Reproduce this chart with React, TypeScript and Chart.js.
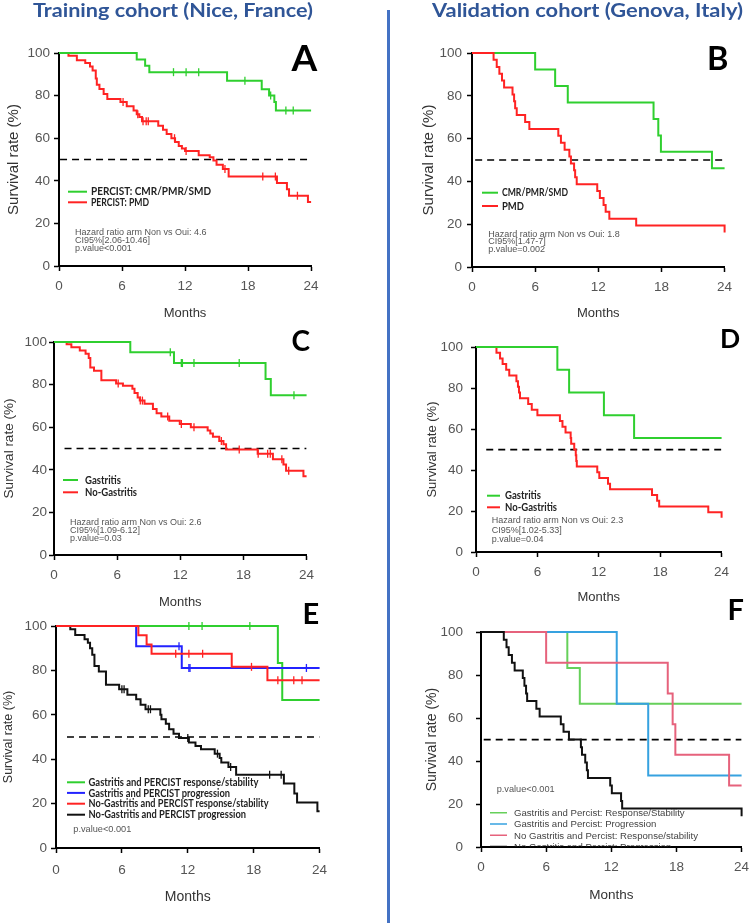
import React, { useEffect, useRef } from 'react';
import { Chart, registerables } from 'chart.js';
Chart.register(...registerables);

// ---------------- data ----------------
const FOLLOW_UP = 24;
const monthTicks = [0, 6, 12, 18, 24];
const survivalTicks = [0, 20, 40, 60, 80, 100];

// Panel A (training, PERCIST)
const aGreenTimes = [7.4, 8.2, 8.6, 16.0, 19.3, 20.0, 20.5, 20.65];
const aGreenSurv = [97, 94, 91, 87, 83, 80, 77, 73];
const aGreenCensor = [10.9, 12.1, 13.3, 17.7, 20.15, 21.6, 22.3];
const aRedTimes = [0.9, 1.7, 2.5, 2.95, 3.2, 3.5, 3.6, 3.85, 4.25, 4.6, 5.85, 6.45, 7.1, 7.4, 7.65, 7.9, 9.45, 9.9, 10.25, 10.7, 11.05, 11.4, 11.7, 12.0, 13.3, 14.35, 14.7, 15.0, 15.6, 16.15, 20.75, 21.7, 21.9, 23.7];
const aRedSurv = [98.7, 96.6, 95.3, 93.7, 91.8, 88, 85.1, 83.1, 80.7, 78.4, 77, 75, 73, 71.3, 69.9, 67.9, 65.8, 64, 62, 60, 58.2, 56.3, 55.2, 54, 52, 51, 49.5, 47.5, 45.5, 42, 39, 36, 33, 30];
const aRedCensor = [6.1, 7.5, 8.0, 8.3, 8.5, 11.0, 12.1, 15.8, 19.4, 20.6, 22.7];

// Panel B (validation, PERCIST)
const bGreenTimes = [6.0, 7.9, 9.1, 17.25, 17.7, 17.95, 22.8];
const bGreenSurv = [92.3, 84.6, 76.9, 69.2, 61.5, 53.8, 46.2];
const bRedTimes = [2.05, 2.35, 2.6, 2.85, 3.05, 3.85, 4.0, 4.1, 4.25, 5.05, 5.45, 8.2, 8.45, 8.8, 9.25, 9.4, 9.7, 9.8, 9.95, 11.9, 12.15, 12.5, 12.7, 13.05, 15.6, 24.0];
const bRedSurv = [96.8, 93.5, 90.3, 87.1, 83.9, 80.6, 77.4, 74.2, 71, 67.7, 64.5, 61.3, 58.1, 54.8, 51.6, 48.4, 45.2, 41.9, 38.7, 35.5, 32.3, 29, 25.8, 22.6, 19.4, 16.1];

// Panel C (training, gastritis)
const cGreenTimes = [7.25, 11.4, 20.1, 20.6];
const cGreenSurv = [95.2, 90.1, 82.6, 75];
const cGreenCensor = [11.05, 12.1, 12.2, 13.3, 17.6, 22.8];
const cRedTimes = [1.2, 1.65, 2.45, 3.0, 3.3, 3.45, 3.8, 4.5, 5.9, 6.55, 7.45, 7.65, 7.95, 8.15, 8.6, 9.4, 9.75, 10.2, 10.95, 11.95, 13.0, 14.6, 14.85, 15.1, 15.7, 16.1, 16.35, 19.35, 20.8, 21.8, 22.05, 23.7];
const cRedSurv = [99, 97.5, 96, 94.5, 92.5, 88, 86.5, 82, 80.5, 79.5, 78, 76, 74, 72.5, 71, 68.5, 66.5, 65, 63, 61.5, 60, 58.5, 57, 55.5, 53.5, 52, 49.5, 47.5, 45, 42.5, 39.5, 37];
const cRedCensor = [6.1, 8.2, 8.4, 10.8, 12.1, 13.3, 15.9, 17.6, 19.4, 20.3, 20.55, 21.65, 22.3];

// Panel D (validation, gastritis)
const dGreenTimes = [7.95, 9.1, 12.5, 15.45];
const dGreenSurv = [88.9, 77.8, 66.7, 55.6];
const dRedTimes = [2.0, 2.35, 2.6, 2.95, 3.25, 3.95, 4.1, 4.2, 4.3, 5.1, 5.45, 6.0, 8.2, 8.45, 8.75, 9.25, 9.3, 9.6, 9.75, 9.8, 9.85, 11.85, 12.05, 12.9, 13.1, 17.2, 17.7, 17.9, 22.7, 24.0];
const dRedSurv = [97.2, 94.4, 91.7, 88.9, 86.1, 83.3, 80.6, 77.8, 75, 72.2, 69.4, 66.7, 63.9, 61.1, 58.3, 55.6, 52.8, 50, 47.2, 44.4, 41.7, 38.9, 36.1, 33.3, 30.6, 27.8, 25, 22.2, 19.4, 16.7];

// Panel E (training, combined)
const eGreenTimes = [20.2, 20.6];
const eGreenSurv = [83.3, 66.7];
const eGreenCensor = [12.1, 13.3, 17.65];
const eBlueTimes = [7.3, 11.45];
const eBlueSurv = [90.9, 81.1];
const eBlueCensor = [11.2, 12.1, 12.2, 22.8];
const eRedTimes = [7.5, 8.25, 8.7, 16.0, 19.25];
const eRedSurv = [95.8, 91.7, 87.5, 81.6, 75.6];
const eRedCensor = [10.9, 12.1, 13.35, 17.8, 20.2, 21.65, 22.4];
const eBlackTimes = [1.3, 1.75, 2.6, 2.9, 3.1, 3.3, 3.5, 3.9, 4.55, 5.75, 6.5, 7.3, 7.7, 8.15, 9.5, 9.6, 10.0, 10.3, 10.7, 11.2, 12.1, 12.7, 13.2, 14.45, 14.9, 15.05, 15.7, 16.4, 20.75, 21.7, 21.95, 23.8];
const eBlackSurv = [98.5, 96, 94, 92.5, 90, 87, 82, 79.5, 73.5, 71.5, 69, 67, 64.5, 62.5, 60, 58, 56, 53.5, 51.5, 49.5, 47.5, 46, 44.5, 42.5, 40.5, 38.5, 36.5, 33, 29, 24.5, 20.5, 16.5];
const eBlackCensor = [6.0, 6.2, 8.4, 8.6, 12.0, 14.7, 15.9, 19.45, 20.5];

// Panel F (validation, combined)
const fGreenTimes = [7.95, 9.1];
const fGreenSurv = [83.3, 66.7];
const fBlueTimes = [12.5, 15.4];
const fBlueSurv = [66.7, 33.3];
const fPinkTimes = [6.0, 17.2, 17.65, 17.9, 22.85];
const fPinkSurv = [85.7, 71.4, 57.1, 42.9, 28.6];
const fBlackTimes = [2.1, 2.35, 2.55, 2.85, 3.1, 3.85, 4.0, 4.15, 4.25, 5.1, 5.4, 7.35, 7.6, 8.1, 9.2, 9.3, 9.6, 9.75, 9.85, 11.9, 12.05, 12.9, 13.0, 24.0];
const fBlackSurv = [96.4, 92.9, 89.3, 85.7, 82.1, 78.6, 75, 71.4, 67.9, 64.3, 60.7, 57.1, 53.6, 50, 46.4, 42.9, 39.3, 35.7, 32.1, 28.6, 25, 21.4, 17.9, 14.3];

// text content
const titleTraining = 'Training cohort (Nice, France)';
const titleValidation = 'Validation cohort (Genova, Italy)';
const legendA = ['PERCIST: CMR/PMR/SMD', 'PERCIST: PMD'];
const legendB = ['CMR/PMR/SMD', 'PMD'];
const legendC = ['Gastritis', 'No-Gastritis'];
const legendD = ['Gastritis', 'No-Gastritis'];
const legendE = ['Gastritis and PERCIST response/stability', 'Gastritis and PERCIST progression', 'No-Gastritis and PERCIST response/stability', 'No-Gastritis and PERCIST progression'];
const legendF = ['Gastritis and Percist: Response/Stability', 'Gastritis and Percist: Progression', 'No Gastritis and Percist: Response/stability', 'No Gastritis and Percist: Progression'];
const statsA = ['Hazard ratio arm Non vs Oui: 4.6', 'CI95%[2.06-10.46]', 'p.value<0.001'];
const statsB = ['Hazard ratio arm Non vs Oui: 1.8', 'CI95%[1.47-7]', 'p.value=0.002'];
const statsC = ['Hazard ratio arm Non vs Oui: 2.6', 'CI95%[1.09-6.12]', 'p.value=0.03'];
const statsD = ['Hazard ratio arm Non vs Oui: 2.3', 'CI95%[1.02-5.33]', 'p.value=0.04'];
const statsE = ['p.value<0.001'];
const statsF = ['p.value<0.001'];

// ---------------- styles ----------------
const GREEN = '#2fcf2f';
const RED = '#ff2323';
const BLUE = '#2323ff';
const BLACK = '#111111';
const F_GREEN = '#66d05a';
const F_BLUE = '#36a2e0';
const F_PINK = '#e6627c';
const SANS = "'Liberation Sans', Arial, sans-serif";
const HEAD = "Lato, 'Open Sans', sans-serif";

type Curve = { times: number[]; surv: number[]; censor?: number[]; color: string; width: number };
type Layout = {
  cl: number; ct: number; l: number; t: number; r: number; b: number;
  yTitleX: number; yTitleSize: number; tickSize: number; yTickRight: number;
  xTickY: number; monthsY: number; monthsSize: number; medianFrom: number;
};
type Panel = { id: string; layout: Layout; curves: Curve[] };

function stepPoints(times: number[], surv: number[]) {
  const pts = [{ x: 0, y: 100 }];
  times.forEach((t, i) => pts.push({ x: t, y: surv[i] }));
  const last = pts[pts.length - 1];
  if (last.x < FOLLOW_UP) pts.push({ x: FOLLOW_UP, y: last.y });
  return pts;
}
function survivalAt(times: number[], surv: number[], t: number) {
  let s = 100;
  for (let i = 0; i < times.length; i++) if (times[i] <= t) s = surv[i];
  return s;
}

const panels: Panel[] = [
  {
    id: 'A',
    layout: { cl: 0, ct: 37, l: 59, t: 53, r: 312, b: 266, yTitleX: 13.5, yTitleSize: 15, tickSize: 13.5, yTickRight: 50, xTickY: 286.5, monthsY: 313.5, monthsSize: 13, medianFrom: 0.1 },
    curves: [
      { times: aGreenTimes, surv: aGreenSurv, censor: aGreenCensor, color: GREEN, width: 2 },
      { times: aRedTimes, surv: aRedSurv, censor: aRedCensor, color: RED, width: 2 },
    ],
  },
  {
    id: 'B',
    layout: { cl: 395, ct: 37, l: 472, t: 53, r: 725, b: 267, yTitleX: 429, yTitleSize: 15, tickSize: 13.5, yTickRight: 462, xTickY: 287, monthsY: 313.5, monthsSize: 13, medianFrom: 0.3 },
    curves: [
      { times: bRedTimes, surv: bRedSurv, color: RED, width: 2 },
      { times: bGreenTimes, surv: bGreenSurv, color: GREEN, width: 2 },
    ],
  },
  {
    id: 'C',
    layout: { cl: 0, ct: 326, l: 54, t: 342, r: 307, b: 555, yTitleX: 9, yTitleSize: 13.5, tickSize: 13.5, yTickRight: 47, xTickY: 575, monthsY: 602, monthsSize: 13, medianFrom: 1.0 },
    curves: [
      { times: cGreenTimes, surv: cGreenSurv, censor: cGreenCensor, color: GREEN, width: 2 },
      { times: cRedTimes, surv: cRedSurv, censor: cRedCensor, color: RED, width: 2 },
    ],
  },
  {
    id: 'D',
    layout: { cl: 395, ct: 331, l: 476, t: 347, r: 722, b: 552, yTitleX: 432.5, yTitleSize: 13, tickSize: 13.5, yTickRight: 463, xTickY: 572, monthsY: 597, monthsSize: 13, medianFrom: 1.0 },
    curves: [
      { times: dGreenTimes, surv: dGreenSurv, color: GREEN, width: 2 },
      { times: dRedTimes, surv: dRedSurv, color: RED, width: 2 },
    ],
  },
  {
    id: 'E',
    layout: { cl: 0, ct: 610, l: 56, t: 626, r: 322, b: 848, yTitleX: 9, yTitleSize: 12.5, tickSize: 13.5, yTickRight: 47, xTickY: 870, monthsY: 897, monthsSize: 14, medianFrom: 1.0 },
    curves: [
      { times: eRedTimes, surv: eRedSurv, censor: eRedCensor, color: RED, width: 2 },
      { times: eBlueTimes, surv: eBlueSurv, censor: eBlueCensor, color: BLUE, width: 2 },
      { times: eGreenTimes, surv: eGreenSurv, censor: eGreenCensor, color: GREEN, width: 2 },
      { times: eBlackTimes, surv: eBlackSurv, censor: eBlackCensor, color: BLACK, width: 2 },
    ],
  },
  {
    id: 'F',
    layout: { cl: 395, ct: 611, l: 481, t: 627, r: 742, b: 847, yTitleX: 432.5, yTitleSize: 14, tickSize: 13.5, yTickRight: 463, xTickY: 867, monthsY: 895, monthsSize: 13.5, medianFrom: 0.25 },
    curves: [
      { times: fBlackTimes, surv: fBlackSurv, color: BLACK, width: 2 },
      { times: fPinkTimes, surv: fPinkSurv, color: F_PINK, width: 2 },
      { times: fBlueTimes, surv: fBlueSurv, color: F_BLUE, width: 2 },
      { times: fGreenTimes, surv: fGreenSurv, color: F_GREEN, width: 2 },
    ],
  },
];

function KMPanel({ panel }: { panel: Panel }) {
  const ref = useRef<HTMLCanvasElement>(null);
  const L = panel.layout;
  const tickLen = 5;
  const padTop = L.t - L.ct;
  const padRight = 14;
  const w = L.r + padRight - L.cl;
  const yw = L.l - L.cl;
  const monthsLH = L.monthsSize * 1.2;
  const h = Math.ceil(L.monthsY + monthsLH / 2 + 3 - L.ct);
  const xh = h - (L.b - L.ct);
  const monthsPadBottom = L.ct + h - L.monthsY - monthsLH / 2;
  const yTickPad = L.l - L.yTickRight - tickLen;
  const xTickPad = L.xTickY - L.b - tickLen - (L.tickSize * 1.2) / 2;
  const yTitlePadTop = L.yTitleX - L.cl - (L.yTitleSize * 1.2) / 2;

  useEffect(() => {
    const datasets: any[] = [];
    panel.curves.forEach((c) => {
      if (c.censor) {
        datasets.push({
          data: c.censor.map((t) => ({ x: t, y: survivalAt(c.times, c.surv, t) })),
          showLine: false,
          pointStyle: 'line',
          pointRotation: 90,
          pointRadius: 4,
          pointBorderWidth: 1.3,
          pointBorderColor: c.color,
          borderColor: c.color,
          clip: false,
        });
      }
    });
    panel.curves.forEach((c) => {
      datasets.push({
        data: stepPoints(c.times, c.surv),
        borderColor: c.color,
        borderWidth: c.width,
        stepped: 'before',
        pointRadius: 0,
        fill: false,
        clip: false,
      });
    });
    datasets.push({
      data: [{ x: L.medianFrom, y: 50 }, { x: FOLLOW_UP, y: 50 }],
      borderColor: '#000',
      borderWidth: 1.7,
      borderDash: [7, 5],
      pointRadius: 0,
      fill: false,
    });
    const chart = new Chart(ref.current as HTMLCanvasElement, {
      type: 'line',
      data: { datasets },
      options: {
        animation: false,
        responsive: false,
        maintainAspectRatio: false,
        events: [],
        layout: { padding: { top: padTop, right: padRight, left: 0, bottom: 0 } },
        plugins: { legend: { display: false }, tooltip: { enabled: false } },
        scales: {
          x: {
            type: 'linear',
            min: 0,
            max: FOLLOW_UP,
            afterBuildTicks: (s: any) => { s.ticks = monthTicks.map((v) => ({ value: v })); },
            afterFit: (s: any) => { s.height = xh; },
            ticks: { color: '#555', font: { family: SANS, size: L.tickSize }, padding: xTickPad, maxRotation: 0, autoSkip: false },
            grid: { drawOnChartArea: false, drawTicks: true, tickLength: tickLen, tickColor: '#000', tickWidth: 1.5 },
            border: { display: true, color: '#000', width: 2 },
            title: { display: true, text: 'Months', color: '#333', font: { family: SANS, size: L.monthsSize }, padding: { top: 0, bottom: monthsPadBottom } },
          },
          y: {
            type: 'linear',
            min: 0,
            max: 100,
            afterBuildTicks: (s: any) => { s.ticks = survivalTicks.map((v) => ({ value: v })); },
            afterFit: (s: any) => { s.width = yw; },
            ticks: { color: '#555', font: { family: SANS, size: L.tickSize }, padding: yTickPad, autoSkip: false },
            grid: { drawOnChartArea: false, drawTicks: true, tickLength: tickLen, tickColor: '#000', tickWidth: 1.5 },
            border: { display: true, color: '#000', width: 2 },
            title: { display: true, text: 'Survival rate (%)', color: '#333', font: { family: SANS, size: L.yTitleSize }, padding: { top: yTitlePadTop, bottom: 0 } },
          },
        },
      } as any,
    });
    return () => chart.destroy();
  }, []);

  return (
    <canvas
      ref={ref}
      width={w}
      height={h}
      style={{ position: 'absolute', left: L.cl, top: L.ct, width: w, height: h }}
    />
  );
}

type LegendSpec = {
  labels: string[]; colors: string[]; x1: number; x2: number; tx: number; rows: number[];
  widths?: number[];
  font: string; size: number; weight: number; textColor: string; lineWidth: number; clipBottom?: number;
};
type TextBlock = { lines: string[]; x: number; rows: number[]; size: number };

const legends: LegendSpec[] = [
  { labels: legendA, colors: [GREEN, RED], x1: 68, x2: 87, tx: 91, rows: [191.7, 202.3], widths: [120, 58], font: HEAD, size: 10.5, weight: 700, textColor: '#222', lineWidth: 2 },
  { labels: legendB, colors: [GREEN, RED], x1: 482, x2: 498, tx: 502, rows: [192.7, 206], widths: [66, 22], font: HEAD, size: 10.5, weight: 700, textColor: '#222', lineWidth: 2 },
  { labels: legendC, colors: [GREEN, RED], x1: 63, x2: 78, tx: 85, rows: [480, 492.3], widths: [36, 52], font: HEAD, size: 10.5, weight: 700, textColor: '#222', lineWidth: 2 },
  { labels: legendD, colors: [GREEN, RED], x1: 487, x2: 500, tx: 505, rows: [495.7, 507.3], widths: [36, 52], font: HEAD, size: 10.5, weight: 700, textColor: '#222', lineWidth: 2 },
  { labels: legendE, colors: [GREEN, BLUE, RED, BLACK], x1: 67, x2: 85, tx: 88.5, rows: [782.3, 792.9, 803.7, 814.7], widths: [170, 141.5, 180, 157.5], font: HEAD, size: 10.5, weight: 700, textColor: '#222', lineWidth: 2 },
  { labels: legendF, colors: [F_GREEN, F_BLUE, F_PINK, BLACK], x1: 490, x2: 507, tx: 514, rows: [812.7, 824, 835.3, 846.5], font: SANS, size: 9.6, weight: 400, textColor: '#444', lineWidth: 1.6, clipBottom: 846.5 },
];
const statBlocks: TextBlock[] = [
  { lines: statsA, x: 75, rows: [232, 239.7, 247.3], size: 9 },
  { lines: statsB, x: 488.3, rows: [233.3, 240.7, 248.3], size: 9 },
  { lines: statsC, x: 70, rows: [521.7, 529.3, 537.3], size: 9 },
  { lines: statsD, x: 491.7, rows: [520, 529.5, 538.5], size: 9 },
  { lines: statsE, x: 73.3, rows: [828.3], size: 9.2 },
  { lines: statsF, x: 496.7, rows: [788.3], size: 9.2 },
];
const letters = [
  { ch: 'A', x: 291.5, base: 71, size: 37 },
  { ch: 'B', x: 707, base: 70, size: 32.5 },
  { ch: 'C', x: 291.5, base: 351, size: 28 },
  { ch: 'D', x: 720, base: 348.3, size: 26.5 },
  { ch: 'E', x: 302.5, base: 624, size: 29 },
  { ch: 'F', x: 727.5, base: 620, size: 29 },
];

function Overlay() {
  return (
    <svg width={749} height={923} style={{ position: 'absolute', left: 0, top: 0, pointerEvents: 'none' }}>
      <defs>
        {legends.map((lg, i) =>
          lg.clipBottom ? (
            <clipPath id={'clip' + i} key={i}>
              <rect x={0} y={0} width={749} height={lg.clipBottom} />
            </clipPath>
          ) : null
        )}
      </defs>
      <rect x={387} y={10} width={3} height={913} fill="#4472c4" />
      <text x={33} y={16.5} fontFamily={HEAD} fontWeight={700} fontSize={18} fill="#2f5597" textLength={280} lengthAdjust="spacingAndGlyphs">{titleTraining}</text>
      <text x={432} y={16.5} fontFamily={HEAD} fontWeight={700} fontSize={18} fill="#2f5597" textLength={311} lengthAdjust="spacingAndGlyphs">{titleValidation}</text>
      {letters.map((l) => (
        <text key={l.ch} x={l.x} y={l.base} fontFamily={HEAD} fontWeight={700} fontSize={l.size} fill="#000">{l.ch}</text>
      ))}
      {legends.map((lg, i) => (
        <g key={i} clipPath={lg.clipBottom ? `url(#clip${i})` : undefined}>
          {lg.labels.map((lab, j) => (
            <g key={j}>
              <line x1={lg.x1} x2={lg.x2} y1={lg.rows[j]} y2={lg.rows[j]} stroke={lg.colors[j]} strokeWidth={lg.lineWidth} />
              <text
                x={lg.tx}
                y={lg.rows[j] + lg.size * 0.36}
                fontFamily={lg.font}
                fontWeight={lg.weight}
                fontSize={lg.size}
                fill={lg.textColor}
                textLength={lg.widths ? lg.widths[j] : undefined}
                lengthAdjust={lg.widths ? 'spacingAndGlyphs' : undefined}
              >{lab}</text>
            </g>
          ))}
        </g>
      ))}
      {statBlocks.map((sb, i) => (
        <g key={i}>
          {sb.lines.map((ln, j) => (
            <text key={j} x={sb.x} y={sb.rows[j] + sb.size * 0.36} fontFamily={SANS} fontSize={sb.size} fill="#555">{ln}</text>
          ))}
        </g>
      ))}
    </svg>
  );
}

export default function App() {
  return (
    <div style={{ position: 'absolute', left: 0, top: 0, width: 749, height: 923, background: '#fff', overflow: 'hidden' }}>
      {panels.map((p) => (
        <KMPanel key={p.id} panel={p} />
      ))}
      <Overlay />
    </div>
  );
}
